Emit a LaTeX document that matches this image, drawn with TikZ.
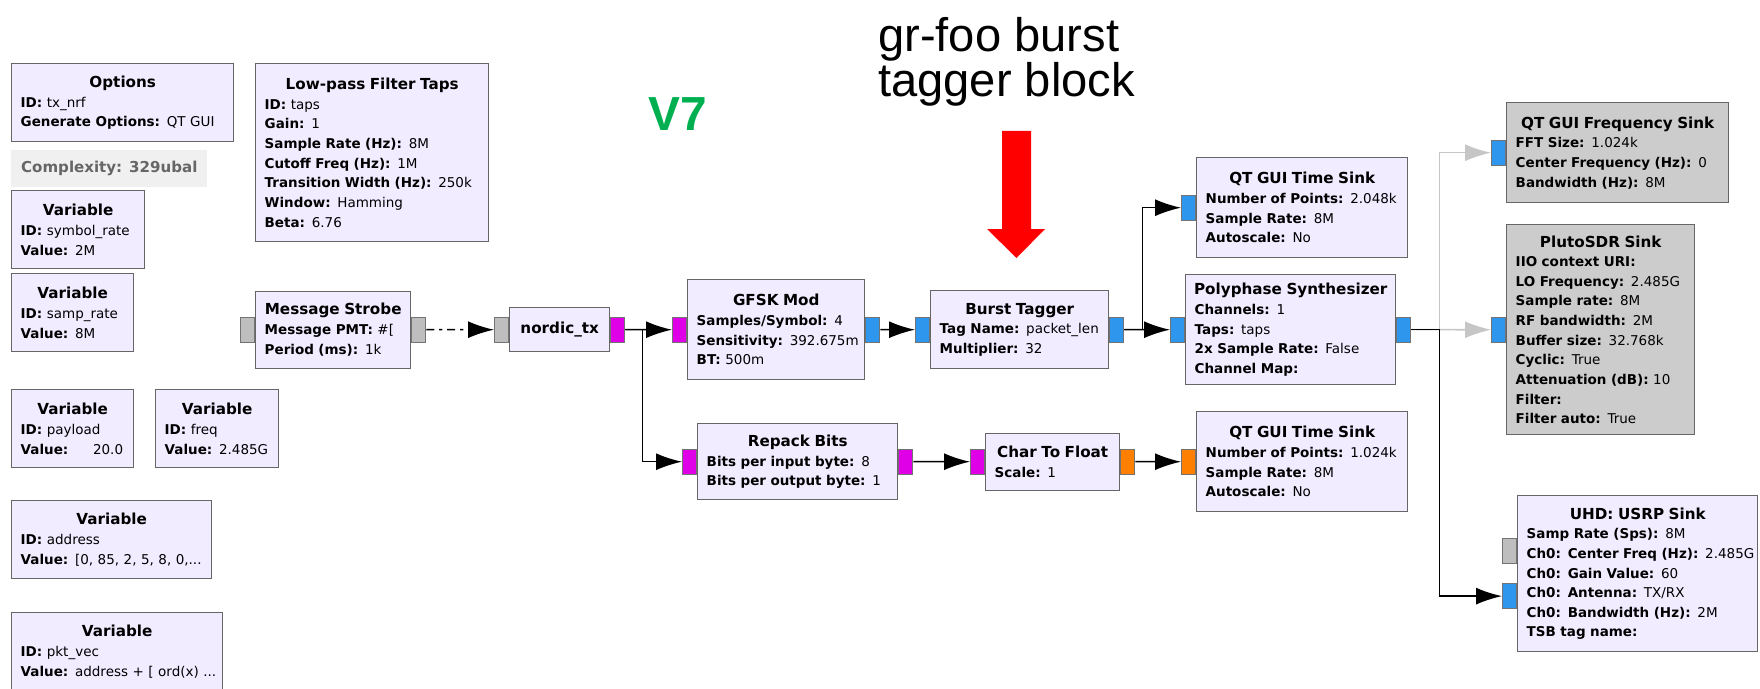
\documentclass[tikz,border=0pt]{standalone}
\usepackage{fontspec}
\setmainfont{DejaVu Sans}
\newfontfamily\annfont{Liberation Sans}
\usepackage{tikz}
\usetikzlibrary{positioning,arrows.meta}

\definecolor{blkfill}{HTML}{F1ECFF}
\definecolor{offfill}{HTML}{CCCCCC}
\definecolor{cplx}{HTML}{2E96EC}
\definecolor{fltc}{HTML}{FF8000}
\definecolor{bytec}{HTML}{E000E8}
\definecolor{msgc}{HTML}{BEBEBE}
\definecolor{vgreen}{HTML}{00B050}

\newcommand{\ttl}[1]{\hbox to\hsize{\hss\fontsize{10.8pt}{14pt}\selectfont\bfseries #1\hss}\\}
\newcommand{\kv}[2]{\mbox{\textbf{#1:} #2}}

\begin{document}
\begin{tikzpicture}[x=0.025cm,y=-0.025cm,
  blk/.style={draw=black!60,line width=1pt,fill=blkfill,anchor=north west,
    inner xsep=2.25mm,inner ysep=0pt,align=left,
    font=\fontsize{9.6pt}{13.95pt}\selectfont},
  off/.style={blk,fill=offfill},
  port/.style={draw=black!55,line width=0.7pt,minimum width=3.5mm,
    minimum height=6.25mm,inner sep=0pt},
  conn/.style={line width=1.1pt,-{Latex[length=6.5mm,width=4.25mm]}},
  dis/.style={conn,draw=gray!45}]
\useasboundingbox (0,0) rectangle (1760,689);

% variables and options
\node[blk,text width=51mm,minimum height=19.5mm] (opts) at (11,63)
  {\ttl{Options}\kv{ID}{tx\_nrf}\\\kv{Generate Options}{QT GUI}};
\node[anchor=north west,fill=gray!12,minimum width=49mm,minimum height=9.25mm,
  inner sep=0pt,text=black!60,font=\fontsize{10.7pt}{13pt}\selectfont\bfseries]
  (cplxty) at (11,150) {Complexity: 329ubal};
\node[blk,text width=28.75mm,minimum height=19.5mm] (vsym) at (11,190)
  {\ttl{Variable}\kv{ID}{symbol\_rate}\\\kv{Value}{2M}};
\node[blk,text width=26mm,minimum height=19.5mm] (vsamp) at (11,273)
  {\ttl{Variable}\kv{ID}{samp\_rate}\\\kv{Value}{8M}};
\node[blk,text width=26mm,minimum height=19.5mm] (vpay) at (11,389)
  {\ttl{Variable}\kv{ID}{payload}\\\kv{Value}{\hspace{4.5mm}20.0}};
\node[blk,text width=26.25mm,minimum height=19.5mm] (vfreq) at (155,389)
  {\ttl{Variable}\kv{ID}{freq}\\\kv{Value}{2.485G}};
\node[blk,text width=45.5mm,minimum height=19.5mm] (vaddr) at (11,500)
  {\ttl{Variable}\kv{ID}{address}\\\kv{Value}{[0, 85, 2, 5, 8, 0,...}};
\node[blk,text width=48.25mm,minimum height=19.5mm] (vpkt) at (11,612)
  {\ttl{Variable}\kv{ID}{pkt\_vec}\\\kv{Value}{address + [ ord(x) ...}};
\node[blk,text width=53.75mm,minimum height=44.5mm] (lpf) at (255,63)
  {\ttl{Low-pass Filter Taps}\kv{ID}{taps}\\\kv{Gain}{1}\\
   \kv{Sample Rate (Hz)}{8M}\\\kv{Cutoff Freq (Hz)}{1M}\\
   \kv{Transition Width (Hz)}{250k}\\\kv{Window}{Hamming}\\\kv{Beta}{6.76}};

% flow blocks
\node[blk,text width=34.25mm,minimum height=19.25mm] (strobe) at (255,290.5)
  {\ttl{Message Strobe}\kv{Message PMT}{\#[}\\\kv{Period (ms)}{1k}};
\node[blk,text width=20.5mm,minimum height=11mm,align=center] (nordic) at (509,307)
  {\fontsize{10.8pt}{14pt}\selectfont\bfseries nordic\_tx};
\node[blk,text width=39.75mm,minimum height=25mm] (gfsk) at (687,279)
  {\ttl{GFSK Mod}\kv{Samples/Symbol}{4}\\\kv{Sensitivity}{392.675m}\\\kv{BT}{500m}};
\node[blk,text width=40mm,minimum height=19.5mm] (burst) at (930,290)
  {\ttl{Burst Tagger}\kv{Tag Name}{packet\_len}\\\kv{Multiplier}{32}};
\node[blk,text width=45.5mm,minimum height=19mm] (repack) at (697,423)
  {\ttl{Repack Bits}\kv{Bits per input byte}{8}\\\kv{Bits per output byte}{1}};
\node[blk,text width=29mm,minimum height=14.25mm] (c2f) at (985,432.5)
  {\ttl{Char To Float}\kv{Scale}{1}};
\node[blk,text width=48.25mm,minimum height=25mm] (qt1) at (1196,157)
  {\ttl{QT GUI Time Sink}\kv{Number of Points}{2.048k}\\\kv{Sample Rate}{8M}\\\kv{Autoscale}{No}};
\node[blk,text width=48mm,minimum height=27.5mm] (poly) at (1185,274)
  {\ttl{Polyphase Synthesizer}\kv{Channels}{1}\\\kv{Taps}{taps}\\
   \kv{2x Sample Rate}{False}\\\kv{Channel Map}{}};
\node[blk,text width=48.25mm,minimum height=25mm] (qt2) at (1196,411)
  {\ttl{QT GUI Time Sink}\kv{Number of Points}{1.024k}\\\kv{Sample Rate}{8M}\\\kv{Autoscale}{No}};
\node[off,text width=51mm,minimum height=25mm] (fsink) at (1506,102)
  {\ttl{QT GUI Frequency Sink}\kv{FFT Size}{1.024k}\\
   \kv{Center Frequency (Hz)}{0}\\\kv{Bandwidth (Hz)}{8M}};
\node[off,text width=42.5mm,minimum height=52.5mm] (pluto) at (1506,224)
  {\ttl{PlutoSDR Sink}\kv{IIO context URI}{}\\\kv{LO Frequency}{2.485G}\\
   \kv{Sample rate}{8M}\\\kv{RF bandwidth}{2M}\\\kv{Buffer size}{32.768k}\\
   \kv{Cyclic}{True}\\\kv{Attenuation (dB)}{10}\\\kv{Filter}{}\\\kv{Filter auto}{True}};
\node[blk,text width=55.5mm,minimum height=39mm] (usrp) at (1517,495)
  {\ttl{UHD: USRP Sink}\kv{Samp Rate (Sps)}{8M}\\\kv{Ch0: Center Freq (Hz)}{2.485G}\\
   \kv{Ch0: Gain Value}{60}\\\kv{Ch0: Antenna}{TX/RX}\\
   \kv{Ch0: Bandwidth (Hz)}{2M}\\\kv{TSB tag name}{}};

% ports
\node[port,fill=msgc,left=0pt of strobe] (strobe-set) {};
\node[port,fill=msgc,right=0pt of strobe] (strobe-out) {};
\node[port,fill=msgc,left=0pt of nordic] (nordic-in) {};
\node[port,fill=bytec,right=0pt of nordic] (nordic-out) {};
\node[port,fill=bytec,left=0pt of gfsk] (gfsk-in) {};
\node[port,fill=cplx,right=0pt of gfsk] (gfsk-out) {};
\node[port,fill=cplx,left=0pt of burst] (burst-in) {};
\node[port,fill=cplx,right=0pt of burst] (burst-out) {};
\node[port,fill=bytec,left=0pt of repack] (repack-in) {};
\node[port,fill=bytec,right=0pt of repack] (repack-out) {};
\node[port,fill=bytec,left=0pt of c2f] (c2f-in) {};
\node[port,fill=fltc,right=0pt of c2f] (c2f-out) {};
\node[port,fill=cplx,left=0pt of qt1] (qt1-in) {};
\node[port,fill=cplx,left=0pt of poly] (poly-in) {};
\node[port,fill=cplx,right=0pt of poly] (poly-out) {};
\node[port,fill=fltc,left=0pt of qt2] (qt2-in) {};
\node[port,fill=cplx,left=0pt of fsink] (fsink-in) {};
\node[port,fill=cplx,left=0pt of pluto] (pluto-in) {};
\node[port,fill=msgc,left=0pt of usrp.west,yshift=5.6mm] (usrp-cmd) {};
\node[port,fill=cplx,left=0pt of usrp.west,yshift=-5.6mm] (usrp-in) {};

% connections
\draw[conn,dash pattern=on 2mm off 1.2mm on 0.8mm off 1.2mm] (strobe-out) -- (nordic-in);
\draw[conn] (nordic-out) -- (gfsk-in);
\draw[conn] (nordic-out.east) -- ++(17,0) |- (repack-in);
\draw[conn] (gfsk-out) -- (burst-in);
\draw[conn] (burst-out) -- (poly-in);
\draw[conn] (burst-out.east) -- ++(18,0) |- (qt1-in);
\draw[conn] (repack-out) -- (c2f-in);
\draw[conn] (c2f-out) -- (qt2-in);
\draw[dis] (poly-out.east) -- ++(28,0) |- (fsink-in);
\draw[dis] (poly-out) -- (pluto-in);
\draw[conn] (poly-out.east) -- ++(28,0) |- (usrp-in);

% annotations
\node[inner sep=0pt,text=vgreen,font=\fontsize{34pt}{34pt}\annfont\bfseries] (ver) at (678,114) {V7};
\node[anchor=north west,align=left,inner sep=0pt,font=\fontsize{33.5pt}{32pt}\annfont] (note) at (878,17)
  {gr-foo burst\\tagger block};
\fill[red] (1002,131) -- (1031,131) -- (1031,229) -- (1045,229) -- (1016.5,258)
  -- (987,229) -- (1002,229) -- cycle;
\end{tikzpicture}
\end{document}
